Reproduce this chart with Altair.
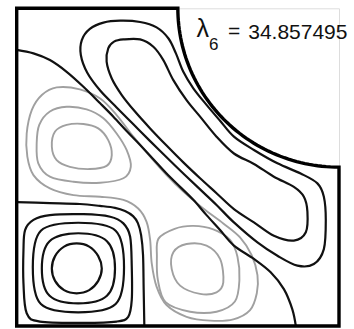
import altair as alt
import numpy as np
import pandas as pd

# Domain: unit square with a quarter disc of radius 0.5 removed at the corner (1, 1).
cut_radius = 0.5

# Nodal lines (open curves), unit coordinates
nodal_a_u = [0, .052, .103, .155, .207, .259, .300, .341, .383, .424, .465, .507, .548, .589, .631, .674, .736, .788, .829, .855, .866]
nodal_a_v = [.869, .858, .837, .800, .753, .701, .659, .614, .570, .525, .480, .438, .397, .349, .302, .253, .211, .169, .116, .053, 0]
nodal_b_u = [0, .103, .196, .258, .305, .336, .361, .376, .386, .392, .394, .396]
nodal_b_v = [.390, .387, .384, .378, .372, .362, .346, .324, .286, .223, .113, 0]

# Positive level curves (closed), upper-right region
pos_c1_u = [.321, .383, .434, .471, .494, .517, .548, .589, .631, .674, .736, .809, .881, .933, .953, .959, .953, .922, .871, .809, .747, .674, .620, .569, .517, .465, .414, .362, .310, .259, .219, .199, .202, .227, .269]
pos_c1_v = [.961, .957, .940, .905, .858, .800, .748, .696, .646, .596, .554, .512, .480, .449, .407, .334, .242, .195, .190, .221, .263, .326, .381, .430, .480, .531, .582, .635, .688, .741, .797, .853, .900, .935, .955]
pos_c2_u = [.331, .383, .424, .455, .486, .527, .569, .620, .674, .736, .798, .860, .891, .902, .897, .860, .798, .736, .674, .620, .569, .517, .465, .414, .367, .326, .295, .279, .284, .302]
pos_c2_v = [.902, .902, .879, .837, .774, .711, .659, .596, .543, .510, .470, .438, .407, .360, .295, .269, .284, .326, .368, .418, .465, .515, .568, .622, .675, .727, .779, .832, .874, .895]

# Positive level curves (closed), lower-left cell
pos_k1_u = [.264, .253, .225, .186, .147, .119, .109, .119, .147, .186, .225, .253]
pos_k1_v = [.181, .220, .250, .260, .250, .220, .181, .142, .113, .103, .113, .142]
pos_k2_u = [.305, .280, .191, .102, .078, .102, .191, .280]
pos_k2_v = [.181, .267, .292, .267, .181, .095, .071, .095]
pos_k3_u = [.333, .307, .191, .075, .050, .075, .191, .307]
pos_k3_v = [.185, .300, .325, .300, .185, .069, .043, .069]
pos_k4_u = [.207, .290, .331, .352, .357, .357, .346, .310, .207, .072, .031, .021, .021, .026, .052, .103]
pos_k4_v = [.352, .344, .323, .281, .187, .082, .029, .014, .010, .014, .040, .134, .239, .302, .334, .349]

# Negative level curves (closed)
neg_p_u = [.124, .196, .259, .310, .362, .414, .465, .517, .579, .641, .693, .729, .747, .745, .724, .672, .600, .527, .465, .434, .419, .414, .403, .377, .331, .259, .176, .103, .052, .033, .031, .047, .078]
neg_p_v = [.751, .745, .716, .664, .596, .533, .475, .423, .370, .323, .279, .223, .160, .103, .050, .021, .017, .029, .066, .124, .197, .271, .328, .370, .397, .407, .412, .433, .475, .533, .606, .680, .727]
neg_g1_u = [.109, .119, .155, .207, .253, .284, .295, .279, .227, .165, .124]
neg_g1_v = [.564, .612, .633, .636, .622, .585, .538, .504, .494, .501, .522]
neg_g2_u = [.062, .070, .103, .155, .217, .269, .310, .341, .354, .331, .259, .176, .103, .067]
neg_g2_v = [.575, .633, .675, .690, .682, .654, .606, .554, .501, .465, .451, .454, .470, .512]
neg_l1_u = [.486, .527, .589, .631, .641, .620, .569, .507, .481]
neg_l1_v = [.232, .258, .253, .211, .137, .106, .101, .127, .179]
neg_l2_u = [.440, .490, .548, .610, .662, .685, .691, .677, .620, .538, .462, .438, .435]
neg_l2_v = [.275, .306, .315, .304, .271, .218, .145, .077, .045, .045, .075, .145, .218]

eigen_index = "6"
eigen_value = "34.857495"


def table(curves):
    rows = []
    for name, us, vs in curves:
        for i, (u, v) in enumerate(zip(us, vs)):
            rows.append({"curve": name, "i": i, "u": u, "v": v})
    return pd.DataFrame(rows)


# Outline of the domain
t = np.linspace(np.pi, 1.5 * np.pi, 60)
arc_u = list(1 + cut_radius * np.cos(t))
arc_v = list(1 + cut_radius * np.sin(t))
outline_u = [0, 0] + arc_u + [1]
outline_v = [0, 1] + arc_v + [0]

outline = table([("outline", outline_u, outline_v)])
nodal = table([("a", nodal_a_u, nodal_a_v), ("b", nodal_b_u, nodal_b_v)])
positive = table([
    ("c1", pos_c1_u, pos_c1_v), ("c2", pos_c2_u, pos_c2_v),
    ("k1", pos_k1_u, pos_k1_v), ("k2", pos_k2_u, pos_k2_v),
    ("k3", pos_k3_u, pos_k3_v), ("k4", pos_k4_u, pos_k4_v),
])
negative = table([
    ("p", neg_p_u, neg_p_v), ("g1", neg_g1_u, neg_g1_v),
    ("g2", neg_g2_u, neg_g2_v), ("l1", neg_l1_u, neg_l1_v),
    ("l2", neg_l2_u, neg_l2_v),
])

xs = alt.X("u:Q", scale=alt.Scale(domain=[0, 1], nice=False, zero=False), axis=None)
ys = alt.Y("v:Q", scale=alt.Scale(domain=[0, 1], nice=False, zero=False), axis=None)


def lines(df, color, width, interp):
    return alt.Chart(df).mark_line(
        color=color, strokeWidth=width, interpolate=interp
    ).encode(x=xs, y=ys, detail="curve:N", order="i:Q")


neg_layer = lines(negative, "#a0a0a0", 1.9, "cardinal-closed")
pos_layer = lines(positive, "#111111", 2.2, "cardinal-closed")
nodal_layer = lines(nodal, "#111111", 2.2, "cardinal")
outline_layer = alt.Chart(outline).mark_line(
    color="#000000", strokeWidth=3.4, interpolate="linear-closed", strokeJoin="miter"
).encode(x=xs, y=ys, order="i:Q")

font = "Liberation Sans"
label_df = pd.DataFrame({"k": [0]})
lam = alt.Chart(label_df).mark_text(
    text="λ", font=font, fontSize=25, align="center", baseline="alphabetic", color="#111"
).encode(x=alt.value(186), y=alt.value(29))
sub = alt.Chart(label_df).mark_text(
    text=eigen_index, font=font, fontSize=17, align="center", baseline="alphabetic", color="#111"
).encode(x=alt.value(197), y=alt.value(42))
eq = alt.Chart(label_df).mark_text(
    text="=", font=font, fontSize=21, align="center", baseline="alphabetic", color="#111"
).encode(x=alt.value(217.5), y=alt.value(29.5))
val = alt.Chart(label_df).mark_text(
    text=eigen_value, font=font, fontSize=21, align="left", baseline="alphabetic", color="#111"
).encode(x=alt.value(231.5), y=alt.value(30.5))

chart = alt.layer(
    neg_layer, pos_layer, nodal_layer, outline_layer, lam, sub, eq, val
).properties(
    width=322.3, height=317.7,
    padding={"left": 16.7, "top": 8.3, "right": 15, "bottom": 3},
    autosize=alt.AutoSizeParams(type="none"),
).configure_view(stroke=None).configure(background="white")

chart.save("out.html", embed_options={"renderer": "svg", "actions": False})
